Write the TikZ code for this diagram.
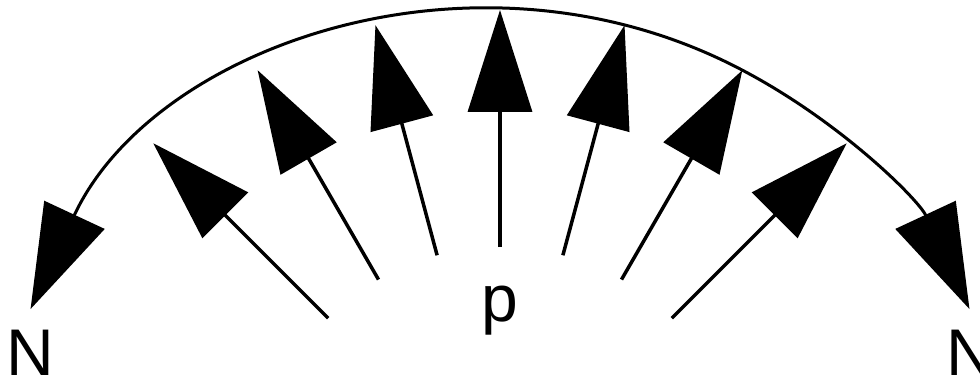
\documentclass[tikz,border=0pt]{standalone}
\usepackage{fontspec}
\setmainfont{Liberation Sans}
\usetikzlibrary{arrows.meta}

\begin{document}
\begin{tikzpicture}[x=1pt, y=1pt,
    ray/.style={line width=3.5pt, -{Triangle[length=102pt, width=64pt]}},
    lbl/.style={anchor=base, inner sep=0pt, font=\fontsize{66}{66}\selectfont}]
  \useasboundingbox (0,0) rectangle (980,378);
  \coordinate (O) at (500,-150);
  \coordinate (F) at (500,-112);
  % the arc, with a tip at each end
  \draw[line width=3pt, {Triangle[length=104pt, width=66pt]}-{Triangle[length=104pt, width=66pt]}]
    ([shift={(155:518)}]O) arc (155:25:518);
  % rays from below p out to the arc
  \foreach \a in {-45,-30,...,45} {
    \pgfmathsetmacro{\len}{-38*cos(\a)+100*sqrt(0.1444*cos(\a)^2+26.688)}
    \draw[ray] ([shift={(90+\a:243)}]F) -- ([shift={(90+\a:\len)}]F);
  }
  \node[lbl] (p) at (500,57) {p};
  \node[lbl] (nl) at (30,3) {N};
  \node[lbl] (nr) at (970,3) {N};
\end{tikzpicture}
\end{document}
